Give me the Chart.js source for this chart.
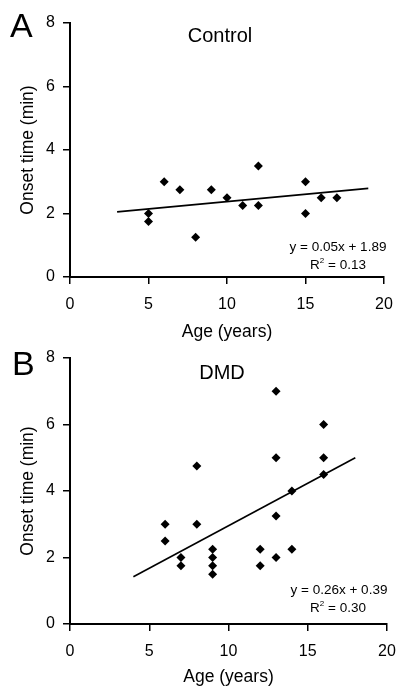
<!DOCTYPE html>
<html>
<head>
<meta charset="utf-8">
<script src="https://cdn.jsdelivr.net/npm/chart.js@4/dist/chart.umd.min.js"></script>
<style>
  html, body { margin:0; padding:0; background:#fff; }
  #wrap { position:relative; width:398px; height:686px; overflow:hidden; background:#fff;
          font-family:"Liberation Sans", Arial, sans-serif; color:#000; }
  canvas { position:absolute; left:0; }
  .lbl { position:absolute; white-space:nowrap; line-height:1; }
  .letter { font-size:34px; }
  .ttl { font-size:20px; width:200px; text-align:center; }
  .eq { font-size:13.5px; width:140px; text-align:center; }
  .eq sup { font-size:8px; vertical-align:6px; line-height:0; }
</style>
</head>
<body>
<div id="wrap">
  <canvas id="c1" width="398" height="345" style="top:0px"></canvas>
  <canvas id="c2" width="398" height="341" style="top:345px"></canvas>

  <div class="lbl letter" style="left:10px; top:8px;">A</div>
  <div class="lbl letter" style="left:12px; top:346px;">B</div>
  <div class="lbl ttl" style="left:120px; top:24.5px;">Control</div>
  <div class="lbl ttl" style="left:122px; top:362px;">DMD</div>

  <div class="lbl eq" style="left:268px; top:240px;">y = 0.05x + 1.89</div>
  <div class="lbl eq" style="left:268px; top:258px;">R<sup>2</sup> = 0.13</div>
  <div class="lbl eq" style="left:269px; top:583px;">y = 0.26x + 0.39</div>
  <div class="lbl eq" style="left:268px; top:601px;">R<sup>2</sup> = 0.30</div>
</div>
<script>
// ---- Data ----
const controlAge   = [5, 5, 6, 7, 8, 9, 10, 11, 12, 12, 15, 15, 16, 17];
const controlOnset = [2, 1.75, 3, 2.75, 1.25, 2.75, 2.5, 2.25, 3.5, 2.25, 3, 2, 2.5, 2.5];
const controlFitX  = [3, 19];
const controlFitY  = [2.05, 2.79];

const dmdAge   = [6, 6, 7, 7, 8, 8, 9, 9, 9, 9, 12, 12, 13, 13, 13, 13, 14, 14, 16, 16, 16];
const dmdOnset = [3, 2.5, 2, 1.75, 4.75, 3, 2.25, 2, 1.75, 1.5, 2.25, 1.75, 7, 5, 3.25, 2, 4, 2.25, 6, 5, 4.5];
const dmdFitX  = [4, 18];
const dmdFitY  = [1.42, 5.0];

const xTicks = [0, 5, 10, 15, 20];
const yTicks = [0, 2, 4, 6, 8];
const xTitle = 'Age (years)';
const yTitle = 'Onset time (min)';

const FONT = '"Liberation Sans", Arial, sans-serif';

function pts(xs, ys) { return xs.map((x, i) => ({x: x, y: ys[i]})); }

function zeroPad(s) { s.paddingLeft = 0; s.paddingRight = 0; s.paddingTop = 0; s.paddingBottom = 0; }

function makeChart(id, ages, onsets, fitX, fitY, pad, xHeight, xTitlePadBottom) {
  const ctx = document.getElementById(id);
  return new Chart(ctx, {
    type: 'scatter',
    data: {
      datasets: [
        {
          data: pts(ages, onsets),
          pointStyle: 'rectRot',
          pointRadius: 4.5,
          pointBackgroundColor: '#000',
          pointBorderWidth: 0,
          showLine: false
        },
        {
          data: pts(fitX, fitY),
          showLine: true,
          borderColor: '#000',
          borderWidth: 1.6,
          pointRadius: 0,
          fill: false
        }
      ]
    },
    options: {
      responsive: false,
      animation: false,
      devicePixelRatio: 1,
      events: [],
      layout: { padding: pad },
      plugins: { legend: { display: false }, tooltip: { enabled: false } },
      scales: {
        x: {
          type: 'linear',
          min: xTicks[0], max: xTicks[xTicks.length - 1],
          afterBuildTicks: s => { s.ticks = xTicks.map(v => ({value: v})); },
          ticks: { color: '#000', font: { size: 16, family: FONT }, padding: 11, maxRotation: 0 },
          grid: { drawOnChartArea: false, drawTicks: true, tickLength: 7, color: '#000', lineWidth: 1.5 },
          border: { color: '#000', width: 2 },
          title: { display: true, text: xTitle, color: '#000',
                   font: { size: 17.5, family: FONT, lineHeight: 1 },
                   padding: { top: 0, bottom: xTitlePadBottom } },
          afterFit: s => { s.height = xHeight; zeroPad(s); }
        },
        y: {
          type: 'linear',
          min: yTicks[0], max: yTicks[yTicks.length - 1],
          afterBuildTicks: s => { s.ticks = yTicks.map(v => ({value: v})); },
          ticks: { color: '#000', font: { size: 16, family: FONT }, padding: 8 },
          grid: { drawOnChartArea: false, drawTicks: true, tickLength: 7, color: '#000', lineWidth: 1.5 },
          border: { color: '#000', width: 2 },
          title: { display: true, text: yTitle, color: '#000',
                   font: { size: 17.5, family: FONT, lineHeight: 1 },
                   padding: { top: 19, bottom: 0 } },
          afterFit: s => { s.width = 70; zeroPad(s); }
        }
      }
    }
  });
}

makeChart('c1', controlAge, controlOnset, controlFitX, controlFitY,
          { top: 23, right: 14, bottom: 0, left: 0 }, 68, 4);
makeChart('c2', dmdAge, dmdOnset, dmdFitX, dmdFitY,
          { top: 13, right: 11, bottom: 0, left: 0 }, 62, 0);
</script>
</body>
</html>
